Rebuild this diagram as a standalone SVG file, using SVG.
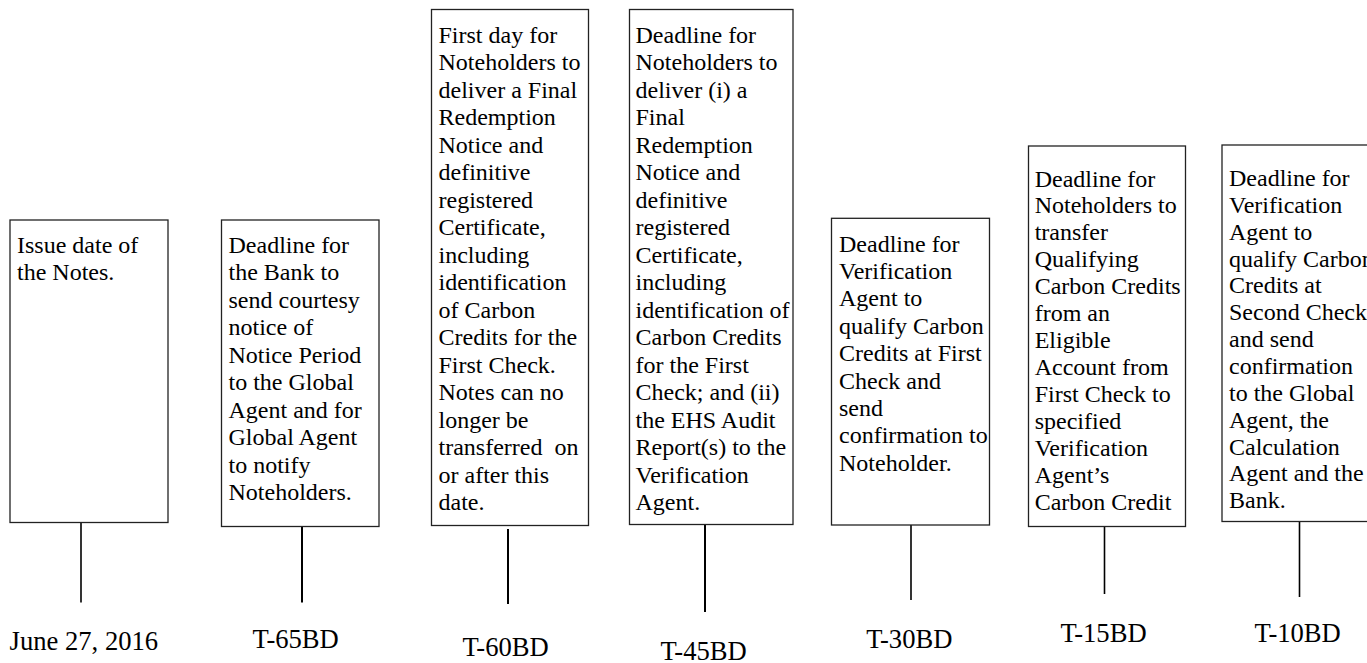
<svg xmlns="http://www.w3.org/2000/svg" width="1367" height="663" viewBox="0 0 1367 663">
<style>
.box{fill:#fff;stroke:#222;stroke-width:1.3}
.t{font-family:"Liberation Serif","Times New Roman",serif;font-size:24px;fill:#000}
.lbl{font-family:"Liberation Serif","Times New Roman",serif;font-size:26.6px;fill:#000}
.c{stroke:#000;stroke-width:1.6;fill:none}
.c2{stroke:#000;stroke-width:2;fill:none}
</style>
<rect width="1367" height="663" fill="#fff"/>
<g id="connectors">
<line class="c" x1="81" y1="522.5" x2="81" y2="602.5"/>
<line class="c2" x1="302" y1="526.5" x2="302" y2="602.5"/>
<line class="c2" x1="508" y1="529" x2="508" y2="604"/>
<line class="c2" x1="705" y1="524.5" x2="705" y2="612"/>
<line class="c" x1="911" y1="525" x2="911" y2="600"/>
<line class="c" x1="1104.5" y1="527" x2="1104.5" y2="594"/>
<line class="c" x1="1299.5" y1="521.5" x2="1299.5" y2="597"/>
</g>
<g id="node-issue">
<rect class="box" x="10" y="220" width="158" height="302.5"/>
<text class="t" x="17" y="252.7"><tspan x="17">Issue date of</tspan><tspan x="17" dy="27.6">the Notes.</tspan></text>
<text class="lbl" x="9.6" y="650">June 27, 2016</text>
</g>
<g id="node-t65">
<rect class="box" x="221.5" y="220" width="157.5" height="306.5"/>
<text class="t" y="252.7"><tspan x="228.5">Deadline for</tspan><tspan x="228.5" dy="27.5">the Bank to</tspan><tspan x="228.5" dy="27.5">send courtesy</tspan><tspan x="228.5" dy="27.5">notice of</tspan><tspan x="228.5" dy="27.5">Notice Period</tspan><tspan x="228.5" dy="27.5">to the Global</tspan><tspan x="228.5" dy="27.5">Agent and for</tspan><tspan x="228.5" dy="27.5">Global Agent</tspan><tspan x="228.5" dy="27.5">to notify</tspan><tspan x="228.5" dy="27.5">Noteholders.</tspan></text>
<text class="lbl" x="252.6" y="647.7">T-65BD</text>
</g>
<g id="node-t60">
<rect class="box" x="431.5" y="9.5" width="157" height="516"/>
<text class="t" y="42.7" xml:space="preserve"><tspan x="438.5">First day for</tspan><tspan x="438.5" dy="27.5">Noteholders to</tspan><tspan x="438.5" dy="27.5">deliver a Final</tspan><tspan x="438.5" dy="27.5">Redemption</tspan><tspan x="438.5" dy="27.5">Notice and</tspan><tspan x="438.5" dy="27.5">definitive</tspan><tspan x="438.5" dy="27.5">registered</tspan><tspan x="438.5" dy="27.5">Certificate,</tspan><tspan x="438.5" dy="27.5">including</tspan><tspan x="438.5" dy="27.5">identification</tspan><tspan x="438.5" dy="27.5">of Carbon</tspan><tspan x="438.5" dy="27.5">Credits for the</tspan><tspan x="438.5" dy="27.5">First Check.</tspan><tspan x="438.5" dy="27.5">Notes can no</tspan><tspan x="438.5" dy="27.5">longer be</tspan><tspan x="438.5" dy="27.5">transferred  on</tspan><tspan x="438.5" dy="27.5">or after this</tspan><tspan x="438.5" dy="27.5">date.</tspan></text>
<text class="lbl" x="462.5" y="656">T-60BD</text>
</g>
<g id="node-t45">
<rect class="box" x="629.5" y="9.5" width="163.5" height="515"/>
<text class="t" y="42.7"><tspan x="635.5">Deadline for</tspan><tspan x="635.5" dy="27.5">Noteholders to</tspan><tspan x="635.5" dy="27.5">deliver (i) a</tspan><tspan x="635.5" dy="27.5">Final</tspan><tspan x="635.5" dy="27.5">Redemption</tspan><tspan x="635.5" dy="27.5">Notice and</tspan><tspan x="635.5" dy="27.5">definitive</tspan><tspan x="635.5" dy="27.5">registered</tspan><tspan x="635.5" dy="27.5">Certificate,</tspan><tspan x="635.5" dy="27.5">including</tspan><tspan x="635.5" dy="27.5">identification of</tspan><tspan x="635.5" dy="27.5">Carbon Credits</tspan><tspan x="635.5" dy="27.5">for the First</tspan><tspan x="635.5" dy="27.5">Check; and (ii)</tspan><tspan x="635.5" dy="27.5">the EHS Audit</tspan><tspan x="635.5" dy="27.5">Report(s) to the</tspan><tspan x="635.5" dy="27.5">Verification</tspan><tspan x="635.5" dy="27.5">Agent.</tspan></text>
<text class="lbl" x="660.5" y="659.5">T-45BD</text>
</g>
<g id="node-t30">
<rect class="box" x="831.5" y="218.3" width="158" height="306.7"/>
<text class="t" y="251.5"><tspan x="839">Deadline for</tspan><tspan x="839" dy="27.4">Verification</tspan><tspan x="839" dy="27.4">Agent to</tspan><tspan x="839" dy="27.4">qualify Carbon</tspan><tspan x="839" dy="27.4">Credits at First</tspan><tspan x="839" dy="27.4">Check and</tspan><tspan x="839" dy="27.4">send</tspan><tspan x="839" dy="27.4">confirmation to</tspan><tspan x="839" dy="27.4">Noteholder.</tspan></text>
<text class="lbl" x="866.2" y="648.3">T-30BD</text>
</g>
<g id="node-t15">
<rect class="box" x="1028.5" y="146" width="157" height="380.5"/>
<text class="t" y="186.5"><tspan x="1034.7">Deadline for</tspan><tspan x="1034.7" dy="26.95">Noteholders to</tspan><tspan x="1034.7" dy="26.95">transfer</tspan><tspan x="1034.7" dy="26.95">Qualifying</tspan><tspan x="1034.7" dy="26.95">Carbon Credits</tspan><tspan x="1034.7" dy="26.95">from an</tspan><tspan x="1034.7" dy="26.95">Eligible</tspan><tspan x="1034.7" dy="26.95">Account from</tspan><tspan x="1034.7" dy="26.95">First Check to</tspan><tspan x="1034.7" dy="26.95">specified</tspan><tspan x="1034.7" dy="26.95">Verification</tspan><tspan x="1034.7" dy="26.95">Agent’s</tspan><tspan x="1034.7" dy="26.95">Carbon Credit</tspan></text>
<text class="lbl" x="1060.4" y="642.3">T-15BD</text>
</g>
<g id="node-t10">
<rect class="box" x="1222" y="145" width="160" height="376.5"/>
<text class="t" y="186"><tspan x="1229">Deadline for</tspan><tspan x="1229" dy="26.85">Verification</tspan><tspan x="1229" dy="26.85">Agent to</tspan><tspan x="1229" dy="26.85">qualify Carbon</tspan><tspan x="1229" dy="26.85">Credits at</tspan><tspan x="1229" dy="26.85">Second Check</tspan><tspan x="1229" dy="26.85">and send</tspan><tspan x="1229" dy="26.85">confirmation</tspan><tspan x="1229" dy="26.85">to the Global</tspan><tspan x="1229" dy="26.85">Agent, the</tspan><tspan x="1229" dy="26.85">Calculation</tspan><tspan x="1229" dy="26.85">Agent and the</tspan><tspan x="1229" dy="26.85">Bank.</tspan></text>
<text class="lbl" x="1254.6" y="642.3">T-10BD</text>
</g>
</svg>
